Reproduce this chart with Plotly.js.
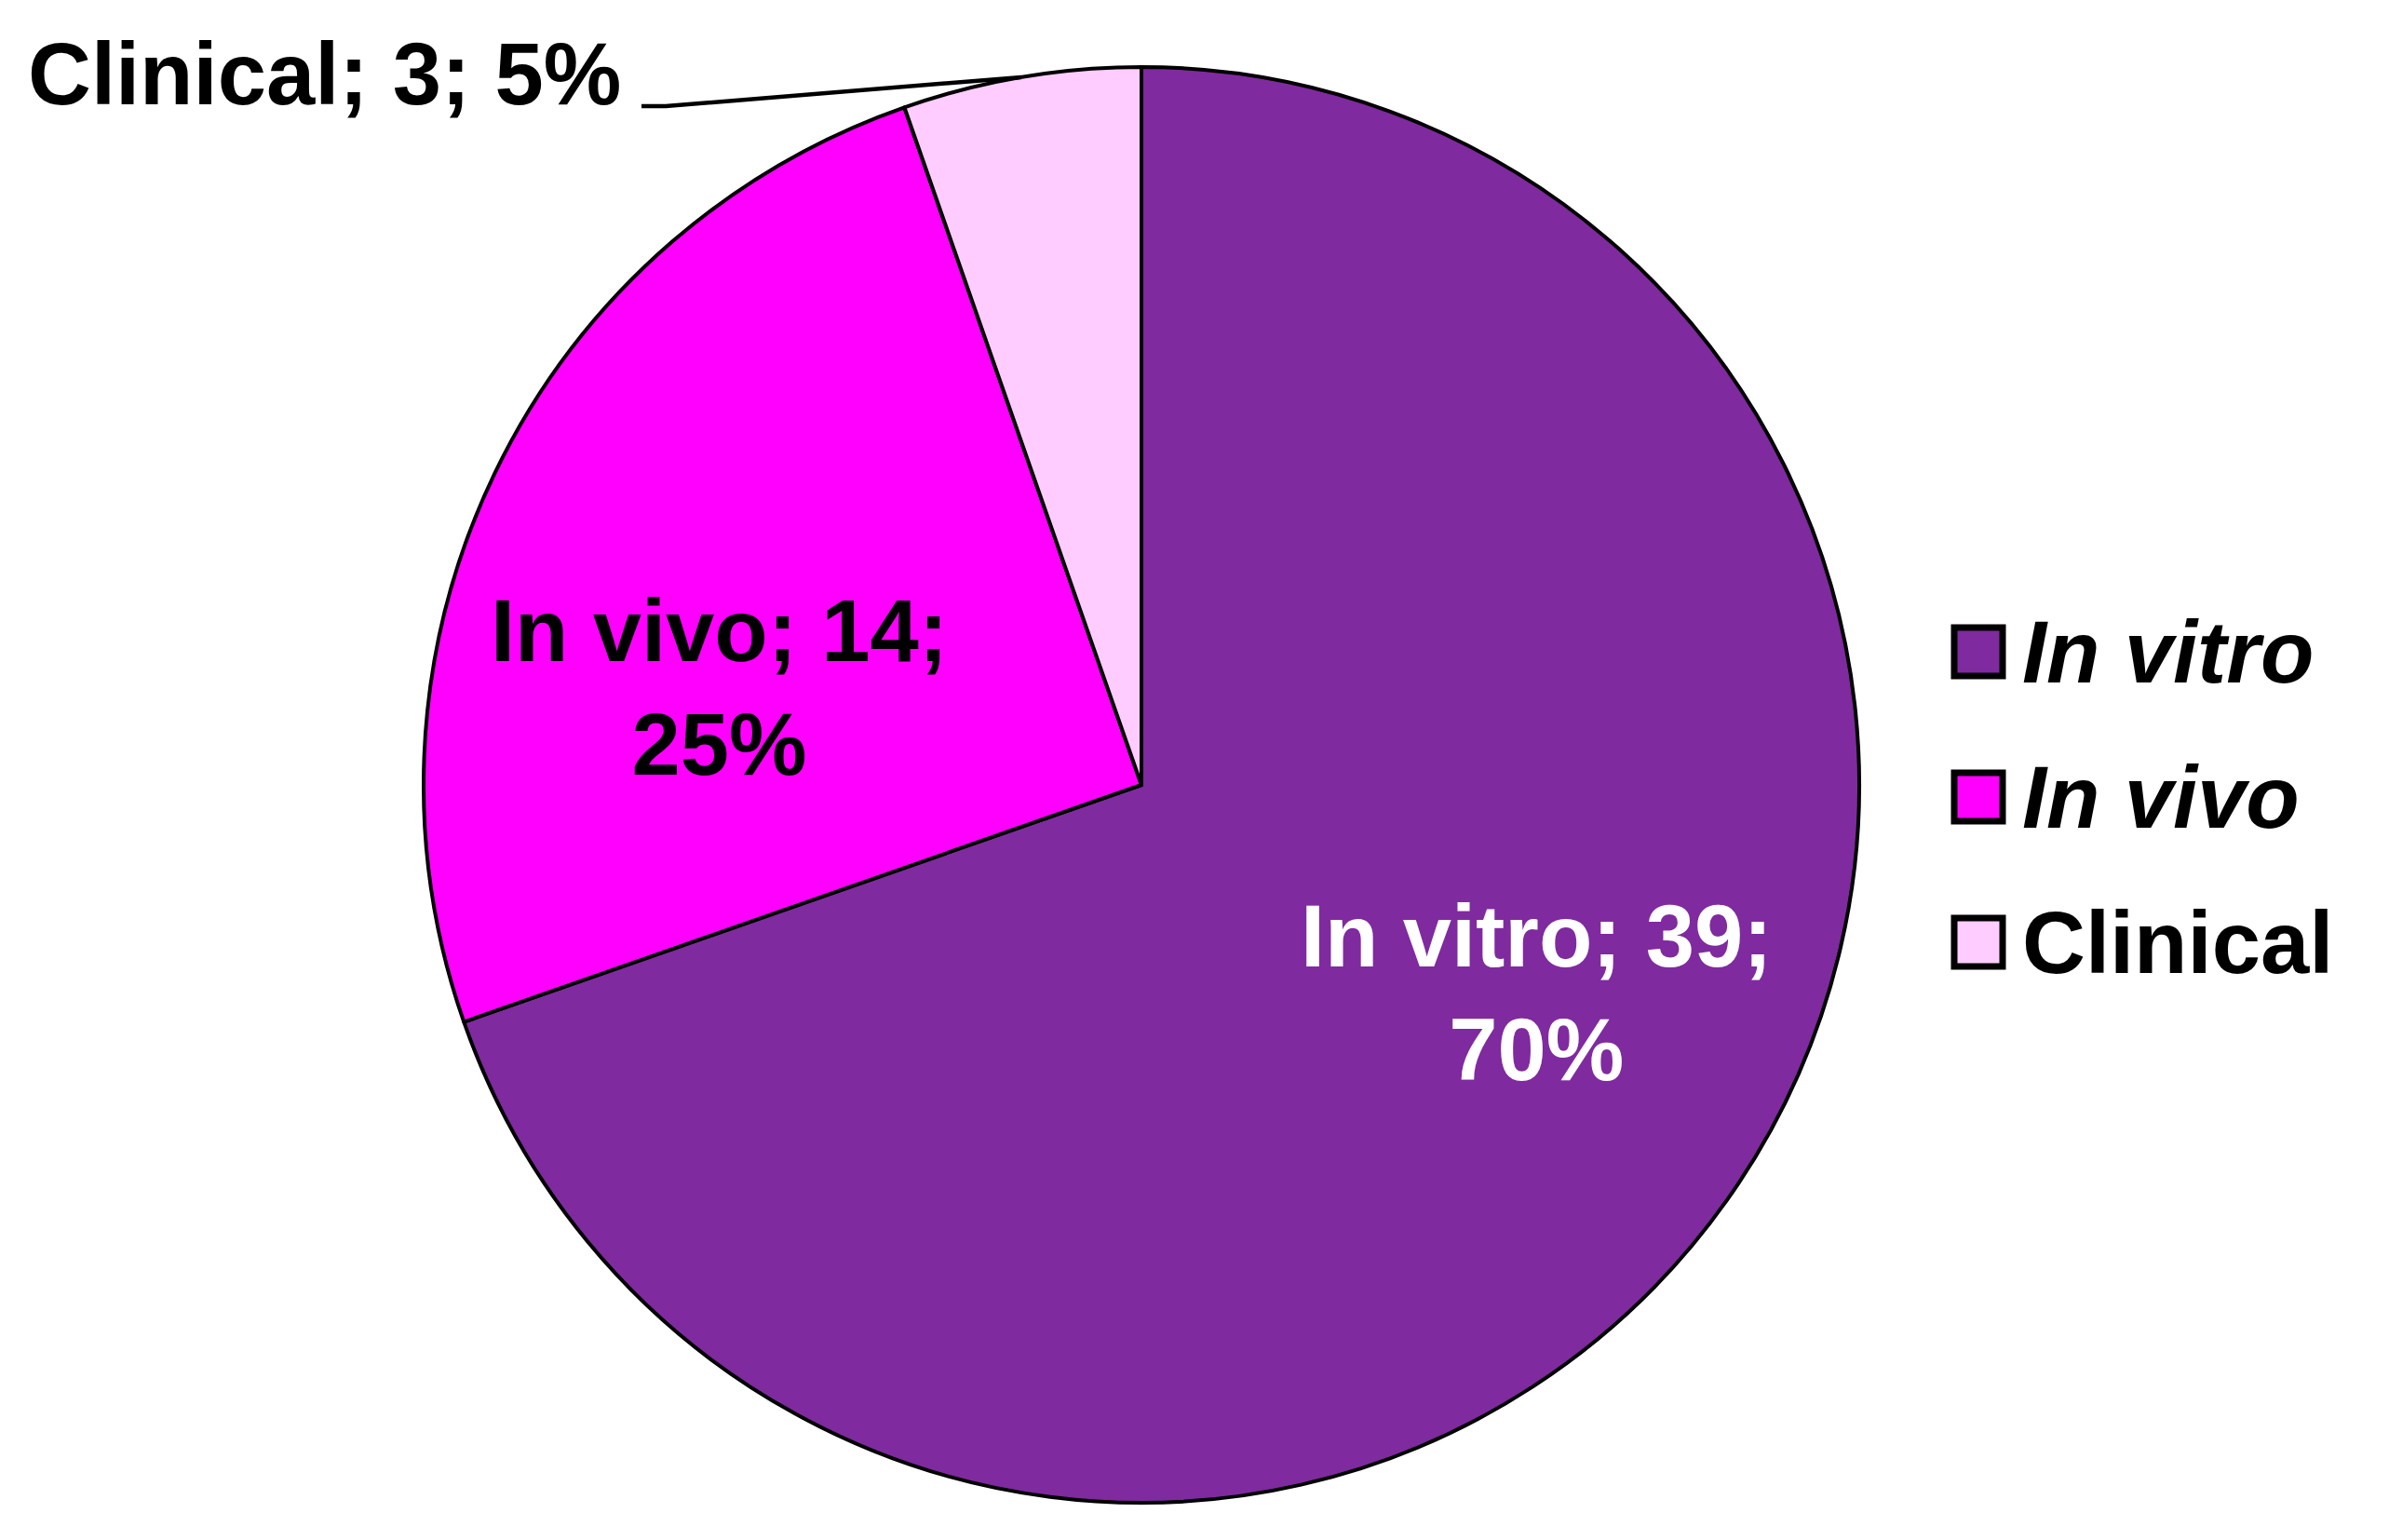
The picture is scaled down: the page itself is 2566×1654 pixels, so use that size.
<!DOCTYPE html>
<html>
<head>
<meta charset="utf-8">
<script src="https://cdn.plot.ly/plotly-3.0.1.min.js"></script>
<style>html,body{margin:0;padding:0;background:#fff;}#chart{width:2566px;height:1654px;}</style>
</head>
<body>
<div id="chart"></div>
<script>
// ---- data ----
const categories = ["In vitro", "In vivo", "Clinical"];
const legendLabels = ["<i>In vitro</i>", "<i>In vivo</i>", "Clinical"];
const counts = [39, 14, 3];
const sliceColors = ["#7F2A9F", "#FF00FF", "#FFCCFF"];
const labelColors = ["#FFFFFF", "#000000", "#000000"];

// ---- layout constants ----
const W = 2566, H = 1654;
const FONT = "Liberation Sans, Arial, sans-serif";
const FS = 94;
const pieLeft = 455, pieRight = 1997, pieTop = 72, pieBottom = 1614;
const domX = [pieLeft / W, pieRight / W];
const domY = [1 - pieBottom / H, 1 - pieTop / H];
// label anchor points in pixels (in-slice labels and outside label)
const labelAnchors = [[1650, 1066], [772, 738], [28, 80]];

const px = v => v / W, py = v => 1 - v / H;
const total = counts.reduce((a, b) => a + b, 0);

const trace = {
  type: "pie",
  labels: categories,
  values: counts,
  sort: false,
  direction: "clockwise",
  rotation: 0,
  domain: {x: domX, y: domY},
  marker: {colors: sliceColors, line: {color: "#000000", width: 4}},
  textinfo: "none",
  hoverinfo: "skip",
  showlegend: false
};

const annotations = [];
const shapes = [];

// ---- slice labels ----
counts.forEach((v, i) => {
  const pct = Math.round(100 * v / total);
  const outside = i === 2;
  annotations.push({
    xref: "paper", yref: "paper",
    x: px(labelAnchors[i][0]), y: py(labelAnchors[i][1]),
    xanchor: outside ? "left" : "center", yanchor: "middle", showarrow: false,
    align: "center",
    text: outside ? `${categories[i]}; ${v}; ${pct}%` : `${categories[i]}; ${v};<br>${pct}%`,
    font: {family: FONT, size: FS, color: labelColors[i], weight: "bold"}
  });
});

// ---- leader line for the small slice ----
{
  const cx = (pieLeft + pieRight) / 2, cy = (pieTop + pieBottom) / 2, R = (pieRight - pieLeft) / 2;
  const idx = 2;
  let before = 0;
  for (let i = 0; i < idx; i++) before += counts[i];
  const midFrac = (before + counts[idx] / 2) / total;
  const ang = midFrac * 2 * Math.PI; // clockwise from top
  const tipX = cx + R * Math.sin(ang), tipY = cy - R * Math.cos(ang);
  const sx = 689, sy = 114;
  shapes.push({
    type: "path", xref: "paper", yref: "paper",
    path: `M ${px(sx)},${py(sy)} L ${px(sx + 26)},${py(sy)} Q ${px(980)},${py(92)} ${px(tipX)},${py(tipY)}`,
    line: {color: "#000000", width: 4.5}
  });
}

// ---- legend (custom, large square swatches) ----
const legX0 = 2099, legSize = 52, legY0 = 700, legStep = 156;
categories.forEach((c, i) => {
  const yc = legY0 + i * legStep;
  shapes.push({
    type: "rect", xref: "paper", yref: "paper",
    x0: px(legX0), x1: px(legX0 + legSize),
    y0: py(yc - legSize / 2), y1: py(yc + legSize / 2),
    fillcolor: sliceColors[i], line: {color: "#000000", width: 7}
  });
  annotations.push({
    xref: "paper", yref: "paper", x: px(2170), y: py(yc),
    xanchor: "left", yanchor: "middle", showarrow: false,
    text: legendLabels[i],
    font: {family: FONT, size: FS, color: "#000000", weight: "bold"}
  });
});

const layout = {
  width: W, height: H,
  margin: {l: 0, r: 0, t: 0, b: 0},
  paper_bgcolor: "#FFFFFF",
  showlegend: false,
  annotations: annotations,
  shapes: shapes
};

Plotly.newPlot("chart", [trace], layout, {displayModeBar: false, staticPlot: true});
</script>
</body>
</html>
